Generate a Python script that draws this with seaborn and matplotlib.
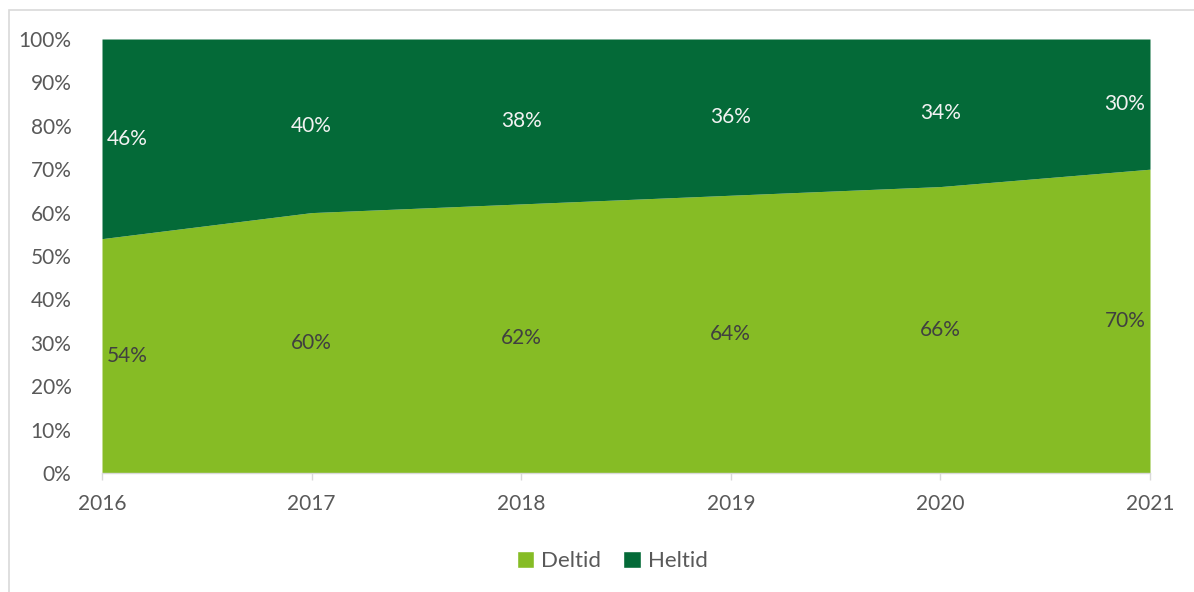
import matplotlib
matplotlib.use("Agg")
import matplotlib.pyplot as plt
from matplotlib.patches import Rectangle, Patch
import seaborn as sns
import pandas as pd

years = [2016, 2017, 2018, 2019, 2020, 2021]
deltid = [54, 60, 62, 64, 66, 70]
heltid = [46, 40, 38, 36, 34, 30]
series_names = ["Deltid", "Heltid"]

sns.set_theme(style="white")
plt.rcParams["font.family"] = ["Lato", "DejaVu Sans"]

df = pd.DataFrame({"year": years, "Deltid": deltid, "Heltid": heltid})
colors = ["#86BC25", "#046A38"]
tick_col = "#595959"

fig = plt.figure(figsize=(11.94, 5.92), dpi=100)
ax = fig.add_axes([102 / 1194, 1 - 473 / 592, (1150 - 102) / 1194, (473 - 39) / 592])

ax.stackplot(df["year"], df["Deltid"] / 100, df["Heltid"] / 100,
             colors=colors, labels=series_names, linewidth=0)

ax.set_xlim(years[0], years[-1])
ax.set_ylim(0, 1)
ax.set_yticks([i / 10 for i in range(11)])
ax.set_yticklabels([f"{i * 10}%" for i in range(11)])
ax.set_xticks(years)
ax.set_xticklabels([str(y) for y in years])
ax.tick_params(axis="y", length=0, pad=22, labelsize=15, labelcolor=tick_col)
ax.tick_params(axis="x", length=5, width=1, color="#d9d9d9", pad=10,
               labelsize=15, labelcolor=tick_col, bottom=True)
for s in ["top", "right", "left"]:
    ax.spines[s].set_visible(False)
ax.spines["bottom"].set_color("#d9d9d9")
ax.spines["bottom"].set_linewidth(1)

# data labels
for i, y in enumerate(years):
    shift = 0.0
    if i == 0:
        shift = 0.12
    elif i == len(years) - 1:
        shift = -0.12
    d = deltid[i] / 100
    h = heltid[i] / 100
    ax.text(y + shift, d / 2, f"{deltid[i]}%", ha="center", va="center",
            fontsize=15, color="#404040")
    ax.text(y + shift, d + h / 2, f"{heltid[i]}%", ha="center", va="center",
            fontsize=15, color="#f2f2f2")

handles = [Patch(facecolor=c, label=n) for c, n in zip(colors, series_names)]
fig.legend(handles=handles, loc="center", bbox_to_anchor=(612 / 1194, 1 - 561 / 592),
           ncol=2, frameon=False, fontsize=16, handlelength=0.8, handleheight=0.8,
           handletextpad=0.3, columnspacing=1.0, labelcolor=tick_col)

fig.patches.append(Rectangle((9 / 1194, -0.01), 1.0, 1 - 10 / 592 + 0.01,
                             transform=fig.transFigure, fill=False,
                             edgecolor="#d9d9d9", linewidth=1.2))

fig.savefig("out.png", dpi=100)
